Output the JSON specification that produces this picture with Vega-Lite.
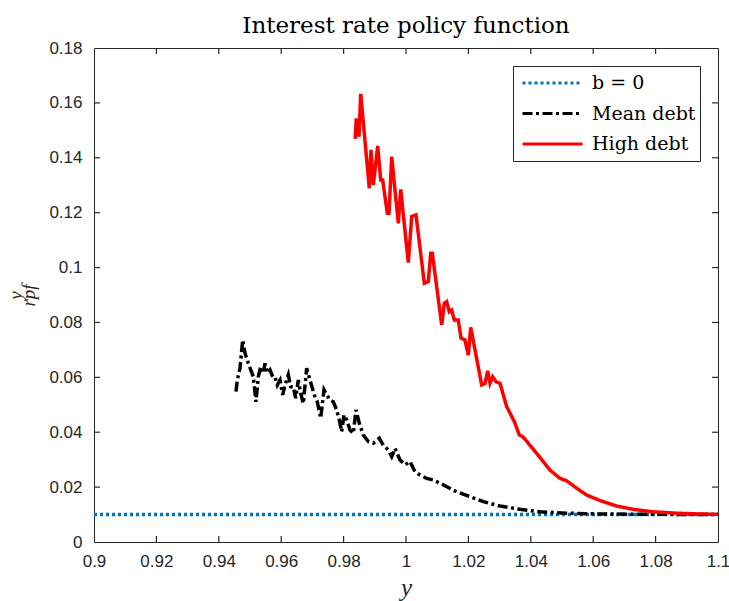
{
  "$schema": "https://vega.github.io/schema/vega-lite/v6.json",
  "width": 624,
  "height": 494,
  "autosize": {"type": "none"},
  "padding": {"left": 94, "top": 48, "right": 11, "bottom": 59},
  "background": "white",
  "title": {
    "text": "Interest rate policy function",
    "font": "DejaVu Serif",
    "fontSize": 23,
    "fontWeight": "normal",
    "color": "#000000",
    "offset": 1
  },
  "config": {
    "view": {"stroke": "#262626", "strokeWidth": 1},
    "axis": {
      "domain": false,
      "ticks": false,
      "labelColor": "#262626",
      "labelFont": "Liberation Sans",
      "labelFontSize": 17,
      "labelFlush": false,
      "grid": false,
      "titleColor": "#262626",
      "titleFont": "Liberation Serif",
      "titleFontStyle": "italic",
      "titleFontWeight": "normal"
    }
  },
  "datasets": {
    "curves": [
      {"series": "b = 0", "x": 0.9, "y": 0.01},
      {"series": "b = 0", "x": 1.0, "y": 0.01},
      {"series": "b = 0", "x": 1.1, "y": 0.01},
      {"series": "Mean debt", "x": 0.94551, "y": 0.0548},
      {"series": "Mean debt", "x": 0.94593, "y": 0.0590},
      {"series": "Mean debt", "x": 0.94679, "y": 0.0633},
      {"series": "Mean debt", "x": 0.94766, "y": 0.0736},
      {"series": "Mean debt", "x": 0.94840, "y": 0.0688},
      {"series": "Mean debt", "x": 0.94946, "y": 0.0651},
      {"series": "Mean debt", "x": 0.95106, "y": 0.0602},
      {"series": "Mean debt", "x": 0.95192, "y": 0.0511},
      {"series": "Mean debt", "x": 0.95266, "y": 0.0602},
      {"series": "Mean debt", "x": 0.95343, "y": 0.0639},
      {"series": "Mean debt", "x": 0.95426, "y": 0.0615},
      {"series": "Mean debt", "x": 0.95481, "y": 0.0651},
      {"series": "Mean debt", "x": 0.95554, "y": 0.0615},
      {"series": "Mean debt", "x": 0.95641, "y": 0.0627},
      {"series": "Mean debt", "x": 0.95728, "y": 0.0602},
      {"series": "Mean debt", "x": 0.95801, "y": 0.0602},
      {"series": "Mean debt", "x": 0.95875, "y": 0.0572},
      {"series": "Mean debt", "x": 0.95962, "y": 0.0590},
      {"series": "Mean debt", "x": 0.96048, "y": 0.0536},
      {"series": "Mean debt", "x": 0.96122, "y": 0.0572},
      {"series": "Mean debt", "x": 0.96228, "y": 0.0609},
      {"series": "Mean debt", "x": 0.96304, "y": 0.0566},
      {"series": "Mean debt", "x": 0.96388, "y": 0.0566},
      {"series": "Mean debt", "x": 0.96465, "y": 0.0524},
      {"series": "Mean debt", "x": 0.96548, "y": 0.0590},
      {"series": "Mean debt", "x": 0.96625, "y": 0.0542},
      {"series": "Mean debt", "x": 0.96708, "y": 0.0505},
      {"series": "Mean debt", "x": 0.96817, "y": 0.0633},
      {"series": "Mean debt", "x": 0.96923, "y": 0.0590},
      {"series": "Mean debt", "x": 0.97061, "y": 0.0536},
      {"series": "Mean debt", "x": 0.97157, "y": 0.0511},
      {"series": "Mean debt", "x": 0.97266, "y": 0.0451},
      {"series": "Mean debt", "x": 0.97372, "y": 0.0554},
      {"series": "Mean debt", "x": 0.97458, "y": 0.0536},
      {"series": "Mean debt", "x": 0.97564, "y": 0.0517},
      {"series": "Mean debt", "x": 0.97670, "y": 0.0511},
      {"series": "Mean debt", "x": 0.97779, "y": 0.0481},
      {"series": "Mean debt", "x": 0.97862, "y": 0.0445},
      {"series": "Mean debt", "x": 0.97939, "y": 0.0402},
      {"series": "Mean debt", "x": 0.98013, "y": 0.0463},
      {"series": "Mean debt", "x": 0.98099, "y": 0.0445},
      {"series": "Mean debt", "x": 0.98205, "y": 0.0408},
      {"series": "Mean debt", "x": 0.98311, "y": 0.0396},
      {"series": "Mean debt", "x": 0.98397, "y": 0.0481},
      {"series": "Mean debt", "x": 0.98503, "y": 0.0433},
      {"series": "Mean debt", "x": 0.98631, "y": 0.0390},
      {"series": "Mean debt", "x": 0.98792, "y": 0.0366},
      {"series": "Mean debt", "x": 0.98952, "y": 0.0360},
      {"series": "Mean debt", "x": 0.99144, "y": 0.0378},
      {"series": "Mean debt", "x": 0.99272, "y": 0.0353},
      {"series": "Mean debt", "x": 0.99433, "y": 0.0335},
      {"series": "Mean debt", "x": 0.99542, "y": 0.0311},
      {"series": "Mean debt", "x": 0.99647, "y": 0.0341},
      {"series": "Mean debt", "x": 0.99808, "y": 0.0299},
      {"series": "Mean debt", "x": 0.99968, "y": 0.0281},
      {"series": "Mean debt", "x": 1.00128, "y": 0.0293},
      {"series": "Mean debt", "x": 1.00288, "y": 0.0256},
      {"series": "Mean debt", "x": 1.00449, "y": 0.0244},
      {"series": "Mean debt", "x": 1.00663, "y": 0.0232},
      {"series": "Mean debt", "x": 1.00875, "y": 0.0226},
      {"series": "Mean debt", "x": 1.01196, "y": 0.0208},
      {"series": "Mean debt", "x": 1.01625, "y": 0.0183},
      {"series": "Mean debt", "x": 1.02051, "y": 0.0165},
      {"series": "Mean debt", "x": 1.02478, "y": 0.0147},
      {"series": "Mean debt", "x": 1.03013, "y": 0.0131},
      {"series": "Mean debt", "x": 1.03654, "y": 0.0119},
      {"series": "Mean debt", "x": 1.04295, "y": 0.0110},
      {"series": "Mean debt", "x": 1.05151, "y": 0.0105},
      {"series": "Mean debt", "x": 1.06218, "y": 0.0102},
      {"series": "Mean debt", "x": 1.0782, "y": 0.0101},
      {"series": "Mean debt", "x": 1.1, "y": 0.0100},
      {"series": "High debt", "x": 0.98370, "y": 0.1469},
      {"series": "High debt", "x": 0.98407, "y": 0.1544},
      {"series": "High debt", "x": 0.98494, "y": 0.1477},
      {"series": "High debt", "x": 0.98548, "y": 0.1633},
      {"series": "High debt", "x": 0.98824, "y": 0.1289},
      {"series": "High debt", "x": 0.98878, "y": 0.1429},
      {"series": "High debt", "x": 0.98952, "y": 0.1301},
      {"series": "High debt", "x": 0.99093, "y": 0.1443},
      {"series": "High debt", "x": 0.99189, "y": 0.1319},
      {"series": "High debt", "x": 0.99253, "y": 0.1319},
      {"series": "High debt", "x": 0.99401, "y": 0.1198},
      {"series": "High debt", "x": 0.99455, "y": 0.1198},
      {"series": "High debt", "x": 0.99542, "y": 0.1404},
      {"series": "High debt", "x": 0.99753, "y": 0.1161},
      {"series": "High debt", "x": 0.99830, "y": 0.1285},
      {"series": "High debt", "x": 1.00074, "y": 0.1018},
      {"series": "High debt", "x": 1.00183, "y": 0.1186},
      {"series": "High debt", "x": 1.00321, "y": 0.1192},
      {"series": "High debt", "x": 1.00587, "y": 0.0943},
      {"series": "High debt", "x": 1.00715, "y": 0.0949},
      {"series": "High debt", "x": 1.00792, "y": 0.1052},
      {"series": "High debt", "x": 1.00843, "y": 0.1052},
      {"series": "High debt", "x": 1.01144, "y": 0.0791},
      {"series": "High debt", "x": 1.01228, "y": 0.0870},
      {"series": "High debt", "x": 1.01304, "y": 0.0876},
      {"series": "High debt", "x": 1.01388, "y": 0.0839},
      {"series": "High debt", "x": 1.01465, "y": 0.0845},
      {"series": "High debt", "x": 1.01548, "y": 0.0809},
      {"series": "High debt", "x": 1.01676, "y": 0.0809},
      {"series": "High debt", "x": 1.01763, "y": 0.0743},
      {"series": "High debt", "x": 1.01891, "y": 0.0736},
      {"series": "High debt", "x": 1.01997, "y": 0.0681},
      {"series": "High debt", "x": 1.02074, "y": 0.0782},
      {"series": "High debt", "x": 1.02426, "y": 0.0572},
      {"series": "High debt", "x": 1.02532, "y": 0.0578},
      {"series": "High debt", "x": 1.02619, "y": 0.0624},
      {"series": "High debt", "x": 1.02692, "y": 0.0578},
      {"series": "High debt", "x": 1.02779, "y": 0.0602},
      {"series": "High debt", "x": 1.02885, "y": 0.0584},
      {"series": "High debt", "x": 1.03013, "y": 0.0578},
      {"series": "High debt", "x": 1.03228, "y": 0.0493},
      {"series": "High debt", "x": 1.03365, "y": 0.0463},
      {"series": "High debt", "x": 1.03494, "y": 0.0433},
      {"series": "High debt", "x": 1.03631, "y": 0.0390},
      {"series": "High debt", "x": 1.03740, "y": 0.0384},
      {"series": "High debt", "x": 1.03920, "y": 0.0360},
      {"series": "High debt", "x": 1.04188, "y": 0.0323},
      {"series": "High debt", "x": 1.04400, "y": 0.0293},
      {"series": "High debt", "x": 1.04615, "y": 0.0262},
      {"series": "High debt", "x": 1.04936, "y": 0.0232},
      {"series": "High debt", "x": 1.05150, "y": 0.0223},
      {"series": "High debt", "x": 1.05471, "y": 0.0196},
      {"series": "High debt", "x": 1.05792, "y": 0.0171},
      {"series": "High debt", "x": 1.06218, "y": 0.0151},
      {"series": "High debt", "x": 1.06753, "y": 0.0131},
      {"series": "High debt", "x": 1.07285, "y": 0.0119},
      {"series": "High debt", "x": 1.07926, "y": 0.0110},
      {"series": "High debt", "x": 1.08676, "y": 0.0105},
      {"series": "High debt", "x": 1.09423, "y": 0.0102},
      {"series": "High debt", "x": 1.1, "y": 0.0101}
    ]
  },
  "encoding": {
    "x": {
      "type": "quantitative",
      "scale": {"domain": [0.9, 1.1], "nice": false, "zero": false},
      "axis": {
        "orient": "bottom",
        "values": [0.9, 0.92, 0.94, 0.96, 0.98, 1.0, 1.02, 1.04, 1.06, 1.08, 1.1],
        "format": "~g",
        "labelPadding": 11,
        "title": "y",
        "titleFontSize": 25,
        "titlePadding": 6
      }
    },
    "y": {
      "type": "quantitative",
      "scale": {"domain": [0, 0.18], "nice": false, "zero": true},
      "axis": {
        "orient": "left",
        "values": [0, 0.02, 0.04, 0.06, 0.08, 0.1, 0.12, 0.14, 0.16, 0.18],
        "format": "~g",
        "labelPadding": 12,
        "title": ["\u00a0y", "rpf"],
        "titleFontSize": 19,
        "titleLineHeight": 13,
        "titlePadding": 10
      }
    }
  },
  "layer": [
    {
      "data": {"name": "curves"},
      "mark": {"type": "line", "strokeWidth": 3.5, "clip": true},
      "encoding": {
        "x": {"field": "x", "type": "quantitative"},
        "y": {"field": "y", "type": "quantitative"},
        "color": {
          "field": "series",
          "type": "nominal",
          "scale": {"domain": ["b = 0", "Mean debt", "High debt"], "range": ["#0072BD", "#000000", "#FF0000"]},
          "legend": {
            "orient": "top-right",
            "offset": 18,
            "title": null,
            "strokeColor": "#262626",
            "fillColor": "white",
            "padding": 4,
            "clipHeight": 26,
            "rowPadding": 4.5,
            "symbolType": "stroke",
            "symbolSize": 3600,
            "symbolOffset": 4,
            "symbolStrokeWidth": 3,
            "labelOffset": 8,
            "labelFont": "DejaVu Serif",
            "labelFontSize": 19,
            "labelColor": "#000000"
          }
        },
        "strokeDash": {
          "field": "series",
          "type": "nominal",
          "scale": {"domain": ["b = 0", "Mean debt", "High debt"], "range": [[3, 3], [10, 3.5, 3, 3.5], [1, 0]]},
          "legend": {"orient": "top-right", "offset": 18, "title": null}
        }
      }
    },
    {
      "data": {"values": [
        {"v": 0.92, "lo": 0, "hi": 0.0022}, {"v": 0.94, "lo": 0, "hi": 0.0022}, {"v": 0.96, "lo": 0, "hi": 0.0022},
        {"v": 0.98, "lo": 0, "hi": 0.0022}, {"v": 1.0, "lo": 0, "hi": 0.0022}, {"v": 1.02, "lo": 0, "hi": 0.0022},
        {"v": 1.04, "lo": 0, "hi": 0.0022}, {"v": 1.06, "lo": 0, "hi": 0.0022}, {"v": 1.08, "lo": 0, "hi": 0.0022},
        {"v": 0.92, "lo": 0.1778, "hi": 0.18}, {"v": 0.94, "lo": 0.1778, "hi": 0.18}, {"v": 0.96, "lo": 0.1778, "hi": 0.18},
        {"v": 0.98, "lo": 0.1778, "hi": 0.18}, {"v": 1.0, "lo": 0.1778, "hi": 0.18}, {"v": 1.02, "lo": 0.1778, "hi": 0.18},
        {"v": 1.04, "lo": 0.1778, "hi": 0.18}, {"v": 1.06, "lo": 0.1778, "hi": 0.18}, {"v": 1.08, "lo": 0.1778, "hi": 0.18}
      ]},
      "mark": {"type": "rule", "color": "#262626", "strokeWidth": 1.2},
      "encoding": {
        "x": {"field": "v", "type": "quantitative"},
        "y": {"field": "lo", "type": "quantitative"},
        "y2": {"field": "hi"}
      }
    },
    {
      "data": {"values": [
        {"v": 0.02, "lo": 0.9, "hi": 0.9019}, {"v": 0.04, "lo": 0.9, "hi": 0.9019}, {"v": 0.06, "lo": 0.9, "hi": 0.9019},
        {"v": 0.08, "lo": 0.9, "hi": 0.9019}, {"v": 0.1, "lo": 0.9, "hi": 0.9019}, {"v": 0.12, "lo": 0.9, "hi": 0.9019},
        {"v": 0.14, "lo": 0.9, "hi": 0.9019}, {"v": 0.16, "lo": 0.9, "hi": 0.9019},
        {"v": 0.02, "lo": 1.0981, "hi": 1.1}, {"v": 0.04, "lo": 1.0981, "hi": 1.1}, {"v": 0.06, "lo": 1.0981, "hi": 1.1},
        {"v": 0.08, "lo": 1.0981, "hi": 1.1}, {"v": 0.1, "lo": 1.0981, "hi": 1.1}, {"v": 0.12, "lo": 1.0981, "hi": 1.1},
        {"v": 0.14, "lo": 1.0981, "hi": 1.1}, {"v": 0.16, "lo": 1.0981, "hi": 1.1}
      ]},
      "mark": {"type": "rule", "color": "#262626", "strokeWidth": 1.2},
      "encoding": {
        "y": {"field": "v", "type": "quantitative"},
        "x": {"field": "lo", "type": "quantitative"},
        "x2": {"field": "hi"}
      }
    }
  ]
}
